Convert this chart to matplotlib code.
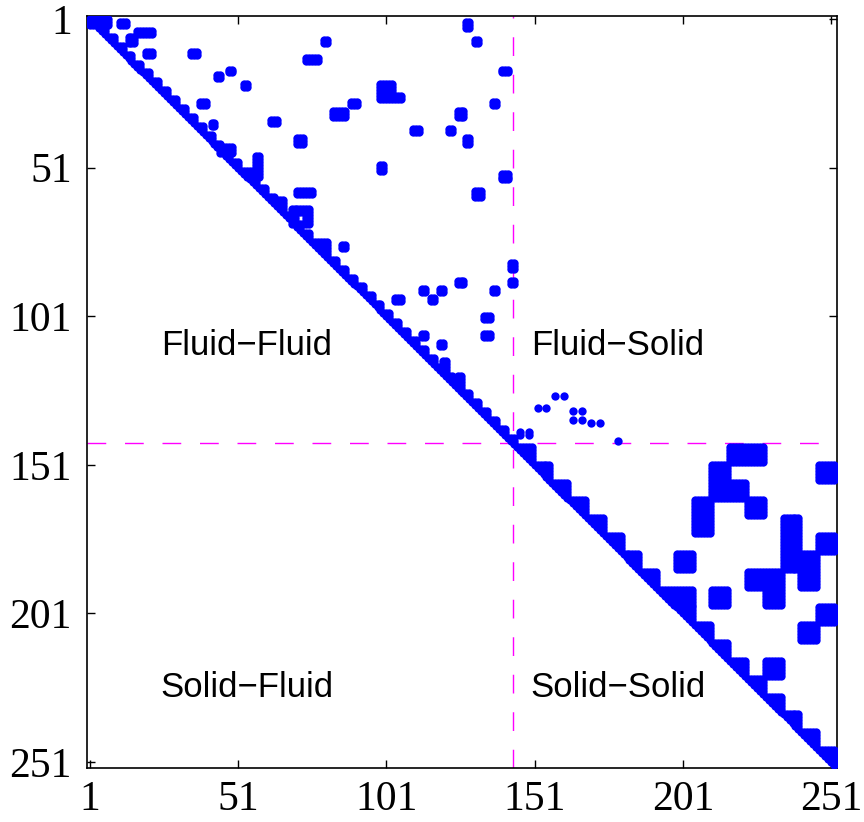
import matplotlib
matplotlib.use("Agg")
import matplotlib.pyplot as plt
import numpy as np

# sizes of the coupled system
n_fluid = 144
n_solid = 108
fluid_dof = 3   # dofs per fluid node
solid_dof = 6   # dofs per solid node

# fluid-fluid off-diagonal nonzero patches: (row0, row1, col0, col1), 1-based inclusive
fluid_blocks = [
    (1, 3, 1, 7), (2, 3, 11, 13), (5, 6, 17, 22), (7, 9, 14, 16),
    (12, 13, 20, 22), (12, 13, 35, 37), (18, 19, 48, 49), (20, 21, 44, 45),
    (23, 24, 53, 54), (29, 30, 38, 40), (35, 36, 62, 64), (41, 43, 71, 73),
    (36, 37, 42, 43), (44, 46, 45, 49), (47, 54, 57, 58), (52, 54, 54, 56),
    (59, 60, 71, 76), (62, 63, 63, 66),
    (65, 66, 69, 75), (70, 70, 69, 75), (65, 70, 69, 70), (65, 70, 74, 75),
    (76, 78, 78, 81), (77, 78, 86, 87), (107, 108, 113, 114), (110, 111, 119, 120),
    (116, 120, 120, 121), (121, 123, 125, 126),
    (2, 4, 128, 129), (8, 9, 131, 132), (8, 9, 80, 81), (14, 15, 74, 78),
    (18, 19, 140, 142), (23, 28, 99, 103), (27, 28, 104, 106), (29, 30, 89, 91),
    (32, 34, 83, 87), (29, 30, 137, 138), (32, 34, 125, 127), (38, 39, 110, 112),
    (38, 39, 122, 123), (41, 43, 128, 129), (50, 52, 99, 100), (53, 55, 140, 142),
    (59, 61, 131, 133), (83, 85, 143, 144), (89, 90, 143, 144), (89, 90, 125, 127),
    (92, 93, 137, 138), (92, 93, 113, 114), (92, 93, 119, 120), (95, 96, 116, 117),
    (95, 96, 104, 106), (101, 102, 134, 136), (107, 108, 134, 136),
]

# solid-solid off-diagonal node couplings (node i, node j), 0-based solid nodes
solid_pairs = [
    (0, 12), (0, 13), (1, 11), (2, 11), (2, 12), (3, 10), (4, 10), (3, 13),
    (1, 17), (4, 15), (5, 15), (6, 15), (5, 17), (6, 16), (7, 16), (7, 13),
    (7, 14), (8, 14), (6, 9), (8, 11), (9, 17), (10, 16), (8, 9), (12, 14),
]

# fluid-solid interface entries (row, col)
coupling_rows = [132, 132, 128, 128, 133, 133, 136, 136, 137, 137, 140, 140, 141, 141, 143]
coupling_cols = [152, 155, 158, 161, 164, 167, 164, 167, 170, 173, 146, 149, 146, 149, 179]

region_labels = ["Fluid\u2212Fluid", "Fluid\u2212Solid", "Solid\u2212Fluid", "Solid\u2212Solid"]
tick_vals = [1, 51, 101, 151, 201, 251]

n = n_fluid + n_solid
mask = np.zeros((n + 1, n + 1), dtype=bool)

# diagonal node blocks, upper triangle only
for s in range(1, n_fluid + 1, fluid_dof):
    e = min(s + fluid_dof - 1, n_fluid)
    for i in range(s, e + 1):
        mask[i, i:e + 1] = True
for k in range(n_solid // solid_dof):
    s = n_fluid + 1 + k * solid_dof
    e = s + solid_dof - 1
    for i in range(s, e + 1):
        mask[i, i:e + 1] = True

for r0, r1, c0, c1 in fluid_blocks:
    mask[r0:r1 + 1, c0:c1 + 1] = True

for a, b in solid_pairs:
    ra = n_fluid + 1 + a * solid_dof
    cb = n_fluid + 1 + b * solid_dof
    mask[ra:ra + solid_dof, cb:cb + solid_dof] = True

mask[coupling_rows, coupling_cols] = True

rows, cols = np.nonzero(mask)

fig = plt.figure(figsize=(8.64, 8.22), dpi=100)
ax = fig.add_axes([87 / 864, 1 - 768 / 822, 750 / 864, 752 / 822])

ax.plot(cols, rows, "o", color="blue", ms=6.0, mew=0, zorder=3)

# partition lines between fluid and solid dofs
ax.axvline(n_fluid - 0.3, color="magenta", lw=1.0, dashes=(13.5, 13.5), zorder=2)
ax.axhline(n_fluid - 0.3, color="magenta", lw=1.0, dashes=(13.5, 13.5), zorder=2)

ax.set_xlim(0, n + 1)
ax.set_ylim(n + 1, 0)
ax.set_xticks(tick_vals)
ax.set_yticks(tick_vals)
ax.set_xticklabels([str(t) for t in tick_vals], fontfamily="Liberation Serif", fontsize=30)
ax.set_yticklabels([str(t) for t in tick_vals], fontfamily="Liberation Serif", fontsize=30)
ax.tick_params(direction="in", top=True, right=True, length=6, width=1.0)
ax.tick_params(axis="x", pad=9)
ax.tick_params(axis="y", pad=11)
for sp in ax.spines.values():
    sp.set_linewidth(1.2)

lab_x = [54, 179, 54, 179]
lab_y = [111, 111, 226, 226]
for txt, x, y in zip(region_labels, lab_x, lab_y):
    ax.text(x, y, txt, ha="center", va="center", fontsize=25,
            fontfamily="Liberation Sans")

fig.savefig("out.png", dpi=100)
